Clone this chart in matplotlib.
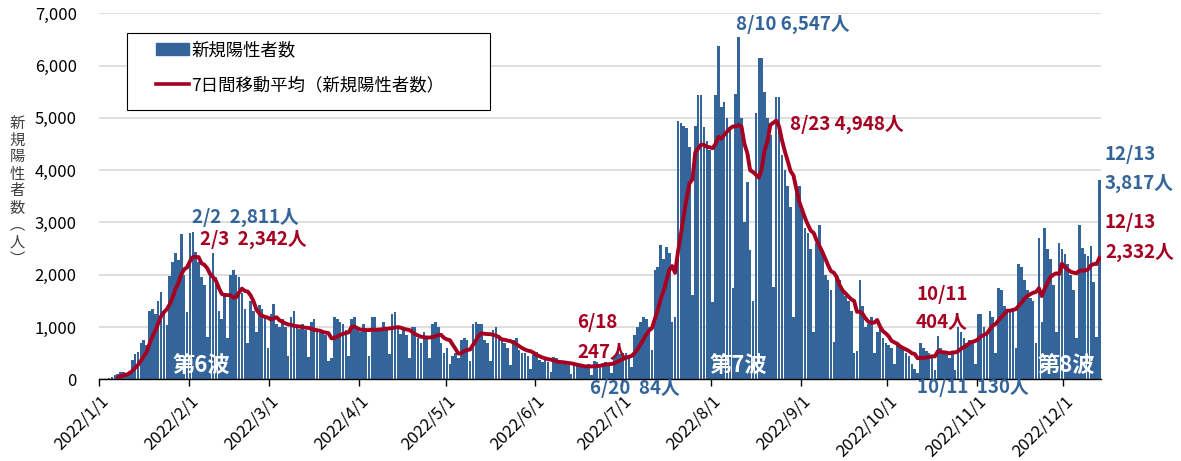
import numpy as np
import pandas as pd
import matplotlib
matplotlib.use("Agg")
import matplotlib.pyplot as plt
from matplotlib.patches import Rectangle, Patch
from matplotlib.lines import Line2D
from matplotlib.ticker import FuncFormatter
from matplotlib.transforms import ScaledTranslation

plt.rcParams['font.family'] = ['Noto Sans CJK JP', 'DejaVu Sans']

# daily new positive cases, 2022/1/1 - 2022/12/13
jan = [5, 8, 10, 20, 40, 80, 110,
       140, 150, 100, 170, 380, 480, 520,
       700, 750, 650, 1300, 1350, 1250, 1490,
       1670, 1290, 1040, 1970, 2250, 2420, 2280,
       2780, 2000, 1290]
feb = [2790, 2811, 2440, 2250, 1960, 1800, 815, 2000, 2420, 1960, 1300,
       1150, 1650, 800, 2000, 2090, 2000, 1960,
       1650, 1350, 700, 1500, 1300, 900, 1420,
       1350, 1200, 600]
mar = [1250, 1450, 1050, 1010,
       1150, 1000, 450, 1200, 1300, 1000, 970,
       1050, 950, 420, 1100, 1150, 950, 890,
       900, 850, 350, 400, 1200, 1150, 1100,
       1050, 950, 450, 1150, 1200, 950]
apr = [900,
       1050, 900, 450, 1200, 1200, 950, 935,
       1100, 950, 480, 1250, 1280, 1000, 870,
       950, 850, 400, 1000, 1000, 800, 705,
       900, 800, 400, 1050, 1100, 1000, 700,
       500]
may = [600, 300, 450, 500, 400, 750,
       800, 750, 350, 1050, 1100, 1060, 1050,
       750, 700, 350, 950, 1000, 850, 750,
       700, 600, 280, 750, 800, 570, 500,
       500, 450, 200, 550]
jun = [530, 380, 330,
       380, 330, 150, 420, 400, 330, 300,
       320, 280, 100, 330, 300, 260, 230,
       229, 300, 84, 350, 330, 300, 320,
       330, 310, 130, 450, 520, 480]
jul = [510,
       500, 450, 240, 850, 1000, 1100, 1200,
       1150, 1000, 560, 2100, 2150, 2570, 2300,
       2540, 2410, 1100, 1200, 4950, 4900, 4850,
       4800, 4450, 1610, 4850, 5430, 5430, 4820,
       4550, 4380]
aug = [1480, 5430, 6375, 5200, 5300,
       5000, 4800, 1740, 5450, 6547, 5000, 3000,
       3780, 2470, 1500, 5100, 6150, 6150, 5500,
       5000, 4670, 1770, 5400, 5400, 4300, 4000,
       3700, 3300, 1200, 3600, 3700]
sep = [3200, 2900, 2800, 2500, 910, 2600, 2960, 2400, 2000, 1900,
       1700, 720, 2000, 1900, 1700, 1600, 1500, 1300, 500, 550,
       1900, 1400, 1000, 1050, 1200, 500, 900, 1000, 800, 700]
oct_ = [650, 600, 300, 700, 650, 600, 500, 450, 300, 200,
        130, 700, 600, 550, 500, 420, 180, 830, 600, 550,
        500, 400, 550, 180, 1000, 900, 800, 700, 750, 700, 300]
nov = [1250, 1260, 1000, 900, 1300, 1200, 500, 1750, 1700, 1400,
       1350, 1300, 1300, 600, 2200, 2150, 1900, 1700, 1550, 1500,
       700, 2700, 1100, 2900, 2500, 2300, 1800, 900, 2600, 2500]
dec = [2400, 2200, 2000, 1700, 800, 2950, 2520, 2400, 2350, 2550,
       1870, 815, 3817]

cases = jan + feb + mar + apr + may + jun + jul + aug + sep + oct_ + nov + dec
dates = pd.date_range('2022-01-01', periods=len(cases), freq='D')
ma7 = pd.Series(cases).rolling(7).mean()

BLUE = '#34659a'
RED = '#a50021'

W, H = 1181, 461
L, R, T, B = 99, 1101, 13.3, 379.4

fig = plt.figure(figsize=(W / 100, H / 100), dpi=100)
ax = fig.add_axes([L / W, 1 - B / H, (R - L) / W, (B - T) / H])


def px(x, y):
    return ((x - L) / (R - L), (B - y) / (B - T))


x = np.arange(len(cases))
ax.bar(x, cases, width=0.9, color=BLUE, linewidth=0, zorder=2)
ax.plot(x, ma7, color=RED, lw=2.8, zorder=3, solid_capstyle='round')

ax.set_xlim(-0.5, len(cases) - 0.5)
ax.set_ylim(0, 7000)
ax.set_yticks(range(0, 7001, 1000))
ax.yaxis.set_major_formatter(FuncFormatter(lambda v, p: f'{int(v):,}'))
ax.grid(axis='y', color='#d9d9d9', lw=1.2, zorder=0)
ax.set_axisbelow(True)

months = pd.date_range('2022-01-01', '2022-12-01', freq='MS')
ax.set_xticks([(m - dates[0]).days - 0.5 for m in months])
ax.set_xticklabels([f'{m.year}/{m.month}/{m.day}' for m in months],
                   rotation=45, ha='right', va='center', rotation_mode='anchor')
ax.tick_params(axis='x', length=5, width=1, labelsize=12, pad=9)
ax.tick_params(axis='y', length=0, labelsize=12, pad=16)
for lab in ax.get_xticklabels():
    lab.set_transform(lab.get_transform() + ScaledTranslation(0.07, 0, fig.dpi_scale_trans))

for s in ['left', 'top', 'right']:
    ax.spines[s].set_visible(False)
ax.spines['bottom'].set_linewidth(1.0)

# y label, stacked vertically
fig.text(17 / W, 1 - 191 / H, '\n'.join('新規陽性者数︵人︶'), ha='center', va='center',
         fontsize=11, linespacing=1.0, color='#404040')

# legend with its own box
x0, y0 = px(127, 110)
x1, y1 = px(490, 33)
ax.add_patch(Rectangle((x0, y0), x1 - x0, y1 - y0, transform=ax.transAxes,
                       facecolor='white', edgecolor='black', lw=0.8, zorder=4))
handles = [Patch(color=BLUE), Line2D([], [], color=RED, lw=2.6)]
leg = ax.legend(handles, ['新規陽性者数', '7日間移動平均（新規陽性者数）'],
                loc='upper left', bbox_to_anchor=px(156, 41), frameon=False,
                fontsize=12.5, handlelength=1.9, handletextpad=0.15,
                labelspacing=1.0, borderpad=0, borderaxespad=0)
leg.set_zorder(5)

# annotations
notes = [
    ('2/2  2,811人', 192, 217, BLUE),
    ('2/3  2,342人', 200, 239, RED),
    ('8/10 6,547人', 736, 24, BLUE),
    ('8/23 4,948人', 790, 124, RED),
    ('6/18', 577, 323, RED),
    ('247人', 577, 352, RED),
    ('6/20  84人', 590, 388, BLUE),
    ('10/11', 916, 294, RED),
    ('404人', 916, 323, RED),
    ('10/11  130人', 917, 387, BLUE),
    ('12/13', 1105, 154, BLUE),
    ('3,817人', 1105, 183, BLUE),
    ('12/13', 1105, 222, RED),
    ('2,332人', 1105, 252, RED),
]
for txt, tx, ty, c in notes:
    ax.text(*px(tx, ty), txt, transform=ax.transAxes, ha='left', va='center',
            fontsize=13.5, fontweight='bold', color=c, clip_on=False, zorder=6)

for txt, tx in [('第6波', 201), ('第7波', 738), ('第8波', 1066)]:
    ax.text(*px(tx, 366), txt, transform=ax.transAxes, ha='center', va='center',
            fontsize=16, fontweight='bold', color='white', zorder=6)

fig.savefig('out.png', dpi=100)
